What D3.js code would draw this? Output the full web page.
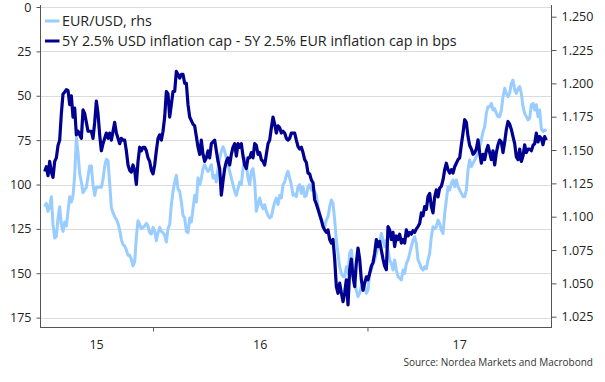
<!DOCTYPE html>
<html>
<head>
<meta charset="utf-8">
<script src="https://cdn.jsdelivr.net/npm/d3@7"></script>
<style>
  html, body { margin: 0; padding: 0; background: #fff; }
  svg { display: block; font-family: "Open Sans", "Noto Sans", sans-serif; }
</style>
</head>
<body>
<svg id="chart" width="605" height="382"></svg>
<script>
// ---------- DATA ----------
const startDate = "2015-06-30";   // first observation
const stepDays = 2.845;           // spacing between observations (days)

// 5Y 2.5% USD inflation cap - 5Y 2.5% EUR inflation cap, bps (left axis, inverted)
const capSpread = [
  92.7, 90, 95, 87, 93, 96, 87, 85, 78, 75, 60, 49, 48, 46.6, 47, 55, 50, 62, 57, 72,
  70, 72, 74, 58, 60, 65, 70, 70, 70, 74, 65, 53, 60, 72, 81, 77, 74, 71, 74, 71,
  75, 70, 65, 71, 74, 77, 74, 75, 75, 81, 89, 92, 93, 89, 92, 100, 87, 79, 81, 79,
  79, 81, 85, 87, 92, 94, 89, 81, 74, 72, 75, 70, 62,
  47.6, 49, 62, 55, 47.6, 47.6, 36.3, 38, 40, 38, 38, 43, 43, 55, 62, 64, 66, 67, 73, 79,
  83, 75, 83, 87, 85, 81, 85, 77, 76, 75, 81, 87, 91, 106, 98, 91, 87, 85, 89, 83,
  79, 77, 84, 77, 79, 77, 84, 89, 91, 85, 85, 82, 85, 77, 78, 83, 82, 86, 87, 89,
  83, 77, 75, 68, 62, 66, 71, 67, 68, 71, 70, 71, 74, 75, 74, 71, 71, 71,
  75, 78.6, 80, 79, 82, 86, 87.6, 93.5, 94, 97.4, 99, 108.6, 111, 114, 117, 120, 123.7, 125.6, 127, 125.6,
  131, 133, 131, 142, 157.5, 161.3, 155.6, 161, 166, 161, 153.7, 167.8, 148, 142, 152, 157.5, 144, 135.8, 142, 153.7,
  159.6, 155.6, 152, 153.7, 150, 146, 144, 138.7, 131, 135, 132, 137, 142, 146, 148, 123.7, 125.6, 131, 127, 135,
  129, 131, 128, 133, 131, 133, 125.6, 129, 127, 128, 126, 127,
  125, 123.7, 122, 116, 117.6, 112.4, 114, 106.8, 105, 112.4, 116, 107, 103, 107, 102, 101, 97.4, 91.7, 88, 91.7,
  93.5, 91.7, 93.5, 90, 88, 86, 85, 77.6, 71, 63.5, 65, 73, 78, 80, 83, 82, 80, 74.8, 82, 88,
  83, 86, 81, 78, 82, 86, 81, 89, 82, 77.6, 75, 76, 82, 76, 69, 64.5, 66, 69, 73, 77,
  84.5, 86, 80, 87, 84, 77.6, 82, 80, 80, 81, 78, 77, 71, 76, 73, 74, 77.6, 73, 75
];

// EUR/USD (right axis)
const eurusd = [
  1.1075, 1.110, 1.104, 1.1075, 1.115, 1.094, 1.084, 1.085, 1.099, 1.1075, 1.094, 1.089, 1.096, 1.093, 1.104, 1.115, 1.111, 1.116, 1.131, 1.159,
  1.148, 1.132, 1.126, 1.118, 1.120, 1.122, 1.130, 1.138, 1.138, 1.124, 1.116, 1.122, 1.122, 1.122, 1.122, 1.128, 1.138, 1.143, 1.142, 1.125,
  1.107, 1.103, 1.100, 1.098, 1.095, 1.090, 1.083, 1.079, 1.078, 1.075, 1.071, 1.071, 1.068, 1.063, 1.066, 1.085, 1.097, 1.094, 1.091, 1.092,
  1.093, 1.095, 1.093, 1.088, 1.087, 1.092, 1.089, 1.082, 1.088, 1.092, 1.089, 1.088, 1.086,
  1.081, 1.091, 1.094, 1.109, 1.119, 1.126, 1.131, 1.121, 1.119, 1.111, 1.101, 1.099, 1.089, 1.088, 1.099, 1.096, 1.106, 1.116, 1.111, 1.129,
  1.124, 1.129, 1.136, 1.139, 1.136, 1.134, 1.136, 1.139, 1.129, 1.131, 1.126, 1.136, 1.144, 1.149, 1.1525, 1.149, 1.144, 1.139, 1.134, 1.129,
  1.124, 1.119, 1.116, 1.121, 1.126, 1.124, 1.136, 1.144, 1.139, 1.129, 1.124, 1.134, 1.136, 1.126, 1.104, 1.109, 1.114, 1.109, 1.106, 1.109,
  1.104, 1.101, 1.099, 1.100, 1.106, 1.111, 1.114, 1.109, 1.116, 1.114, 1.124, 1.126, 1.131, 1.134, 1.129, 1.124, 1.116, 1.117,
  1.115, 1.1225, 1.124, 1.1175, 1.1225, 1.115, 1.116, 1.1225, 1.124, 1.12, 1.121, 1.119, 1.116, 1.1075, 1.1025, 1.0975, 1.095, 1.0925, 1.0975, 1.100,
  1.1075, 1.1125, 1.110, 1.0975, 1.0825, 1.0725, 1.0625, 1.0575, 1.055, 1.055, 1.0625, 1.0575, 1.0725, 1.075, 1.0625, 1.050, 1.045, 1.040, 1.0425, 1.0475,
  1.045, 1.0475, 1.0425, 1.045, 1.0575, 1.06, 1.065, 1.0675, 1.0725, 1.0775, 1.080, 1.0875, 1.0825, 1.0775, 1.0825, 1.075, 1.0675, 1.065, 1.06, 1.0675,
  1.06, 1.055, 1.054, 1.0525, 1.06, 1.0575, 1.065, 1.0675, 1.0725, 1.0775, 1.0825, 1.085,
  1.080, 1.0675, 1.065, 1.0613, 1.060, 1.0625, 1.061, 1.0675, 1.0725, 1.085, 1.0925, 1.091, 1.0925, 1.0975, 1.095, 1.090, 1.0875, 1.1025, 1.1125, 1.1225,
  1.12, 1.125, 1.1275, 1.1225, 1.1275, 1.1225, 1.12, 1.1175, 1.115, 1.115, 1.12, 1.135, 1.1425, 1.1375, 1.14, 1.1425, 1.145, 1.1475, 1.1525, 1.1575,
  1.1638, 1.1675, 1.1775, 1.1825, 1.1825, 1.185, 1.18, 1.181, 1.1775, 1.175, 1.175, 1.18, 1.19, 1.1963, 1.1925, 1.19, 1.1925, 1.2, 1.2025, 1.195,
  1.1925, 1.196, 1.1975, 1.1925, 1.1825, 1.1775, 1.175, 1.1725, 1.174, 1.184, 1.185, 1.18, 1.184, 1.175, 1.18, 1.166, 1.164, 1.165, 1.164
];

const leftTicks = [0, 25, 50, 75, 100, 125, 150, 175];
const rightTicks = [1.025, 1.050, 1.075, 1.100, 1.125, 1.150, 1.175, 1.200, 1.225, 1.250];
const yearLabels = ["15", "16", "17"];
const yearBreaks = ["2016-01-01", "2017-01-01"];
const xDomain = ["2015-06-22", "2017-11-12"];
const legendLabels = ["EUR/USD, rhs", "5Y 2.5% USD inflation cap - 5Y 2.5% EUR inflation cap in bps"];
const sourceText = "Source: Nordea Markets and Macrobond";

// ---------- CHART ----------
const parse = d3.utcParse("%Y-%m-%d");
const t0 = parse(startDate).getTime();
const dates = capSpread.map((_, i) => new Date(t0 + i * stepDays * 864e5));

const light = "#99ccff", dark = "#000091", axisCol = "#555", textCol = "#222";
const L = 40, R = 551, T = 7, B = 327;

const svg = d3.select("#chart");
const x = d3.scaleUtc().domain(xDomain.map(parse)).range([L, R + 1]);
const yL = d3.scaleLinear().domain([0, 180]).range([T, 326.5]);
const yR = d3.scaleLinear().domain([1.025, 1.250]).range([316.7, 16.7]);

// gridlines
svg.append("g").selectAll("line").data(leftTicks).join("line")
  .attr("x1", L).attr("x2", R)
  .attr("y1", d => Math.round(yL(d)) + 0.5).attr("y2", d => Math.round(yL(d)) + 0.5)
  .attr("stroke", "#dcdcdc").attr("stroke-width", 1);

// left axis
const gl = svg.append("g").attr("transform", `translate(${L + 0.5},0)`)
  .call(d3.axisLeft(yL).tickValues(leftTicks).tickSize(4).tickPadding(5).tickFormat(d3.format("d")));
// right axis
const gr = svg.append("g").attr("transform", `translate(${R + 0.5},0)`)
  .call(d3.axisRight(yR).tickValues(rightTicks).tickSize(5).tickPadding(5).tickFormat(d3.format(".3f")));
// bottom axis
const gb = svg.append("g").attr("transform", `translate(0,${B + 0.5})`)
  .call(d3.axisBottom(x).tickValues(yearBreaks.map(parse)).tickSize(4).tickFormat(""));

[gl, gr, gb].forEach(g => {
  g.select(".domain").attr("stroke", axisCol);
  g.selectAll(".tick line").attr("stroke", axisCol);
  g.selectAll(".tick text").attr("fill", textCol).attr("font-size", 12.5)
    .attr("font-family", "'Open Sans', 'Noto Sans', sans-serif");
});
gl.select(".domain").attr("d", `M0,${T - 2}V${B}`);
gr.select(".domain").attr("d", `M0,${T - 2}V${B}`);
gb.select(".domain").attr("d", `M${L},0H${R + 1}`);

// year labels centred on visible span of each year
const yStarts = [x.domain()[0], ...yearBreaks.map(parse)];
const yEnds = [...yearBreaks.map(parse), x.domain()[1]];
svg.append("g").selectAll("text").data(yearLabels).join("text")
  .attr("x", (d, i) => (x(yStarts[i]) + x(yEnds[i])) / 2)
  .attr("y", 345).attr("dy", "0.35em").attr("text-anchor", "middle")
  .attr("font-size", 12.5).attr("fill", textCol).text(d => d);

// lines
const lineR = d3.line().x((d, i) => x(dates[i])).y(d => yR(d));
const lineL = d3.line().x((d, i) => x(dates[i])).y(d => yL(d));
svg.append("path").datum(eurusd).attr("d", lineR)
  .attr("fill", "none").attr("stroke", light).attr("stroke-width", 3).attr("stroke-linejoin", "round");
svg.append("path").datum(capSpread).attr("d", lineL)
  .attr("fill", "none").attr("stroke", dark).attr("stroke-width", 3.2).attr("stroke-linejoin", "round");

// legend
const lg = svg.append("g");
const legendY = [21, 41];
[light, dark].forEach((c, i) => {
  lg.append("line").attr("x1", 45).attr("x2", 59.5).attr("y1", legendY[i]).attr("y2", legendY[i])
    .attr("stroke", c).attr("stroke-width", 3);
  lg.append("text").attr("x", 62).attr("y", legendY[i]).attr("dy", "0.35em")
    .attr("font-size", 14.3).attr("fill", textCol).text(legendLabels[i]);
});

// source
svg.append("text").attr("x", 593).attr("y", 362).attr("dy", "0.35em").attr("text-anchor", "end")
  .attr("font-size", 10).attr("fill", "#333").text(sourceText);
</script>
</body>
</html>
